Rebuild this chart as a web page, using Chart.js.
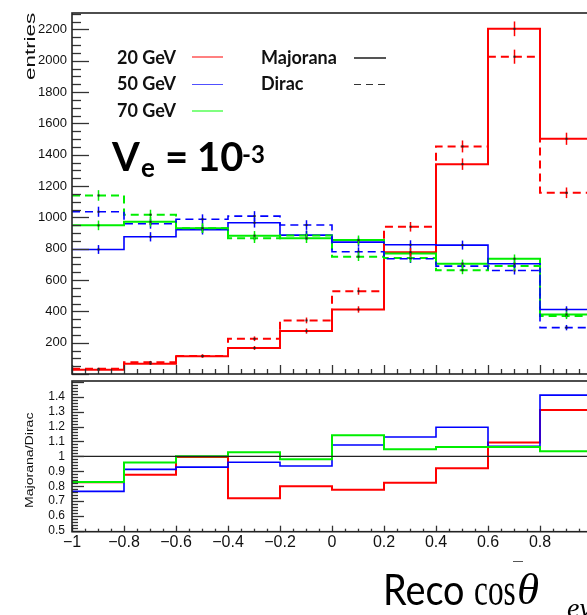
<!DOCTYPE html>
<html><head><meta charset="utf-8">
<script src="https://cdn.jsdelivr.net/npm/chart.js@4.4.1/dist/chart.umd.min.js"></script>
<style>
html,body{margin:0;padding:0;background:#fff;overflow:hidden;}
#wrap{position:relative;width:587px;height:615px;overflow:hidden;background:#fff;}
canvas{position:absolute;left:0;top:0;}
.t{position:absolute;white-space:nowrap;line-height:1;color:#000;}
.lg{font-family:Lato,sans-serif;font-weight:bold;font-size:18px;color:#111;}
.ln{position:absolute;}
.rt{position:absolute;white-space:nowrap;line-height:1;color:#111;font-family:'Liberation Sans',Arial,sans-serif;transform-origin:0 0;}
</style></head><body>
<div id="wrap">
<canvas id="top" width="640" height="400" style="width:640px;height:400px"></canvas>
<canvas id="bot" width="640" height="615" style="width:640px;height:615px"></canvas>

<div class="rt" style="left:23.4px;top:80px;font-size:14px;transform:rotate(-90deg) scaleX(1.6)">entries</div>
<div class="rt" style="left:23.7px;top:508px;font-size:11px;transform:rotate(-90deg) scaleX(1.28)">Majorana/Dirac</div>

<div class="t lg" style="left:117px;top:48px">20 GeV</div>
<div class="t lg" style="left:117px;top:74px">50 GeV</div>
<div class="t lg" style="left:117px;top:100.5px">70 GeV</div>
<div class="t lg" style="left:261px;top:48px">Majorana</div>
<div class="t lg" style="left:261px;top:74px">Dirac</div>
<div class="ln" style="left:192px;top:56px;width:31px;height:2px;background:#ff8080"></div>
<div class="ln" style="left:192px;top:83.5px;width:31px;height:1.5px;background:#5050ff"></div>
<div class="ln" style="left:192px;top:109.5px;width:31px;height:2.5px;background:#80ff80"></div>
<div class="ln" style="left:354px;top:57px;width:32px;height:1.5px;background:#555"></div>
<div class="ln" style="left:354px;top:83.5px;width:32px;height:1.5px;background:repeating-linear-gradient(to right,#333 0 7px,transparent 7px 12px)"></div>

<div class="t" style="left:112px;top:136px;font:bold 40px Lato,sans-serif;line-height:1">V</div>
<div class="t" style="left:141px;top:153.5px;font:bold 26px Lato,sans-serif;line-height:1">e</div>
<div class="t" style="left:165px;top:136px;font:bold 40px Lato,sans-serif;line-height:1">=</div>
<div class="t" style="left:197px;top:136px;font:bold 40px Lato,sans-serif;line-height:1">10</div>
<div class="t" style="left:242px;top:142px;font:bold 24px Lato,sans-serif;line-height:1">-3</div>

<div class="ln" style="left:513px;top:561px;width:10px;height:1px;background:#555"></div>
<div class="t" style="left:383px;top:567.7px;font:42px Lato,sans-serif;line-height:1;transform:scaleX(0.9);transform-origin:left">Reco</div>
<div class="t" style="left:474px;top:566.5px;font:46px 'Liberation Serif',serif;line-height:1;transform:scaleX(0.68);transform-origin:left">cos</div>
<div class="t" style="left:517px;top:567px;font:italic 45px 'Liberation Serif',serif;line-height:1">θ</div>
<div class="t" style="left:567px;top:593.5px;font:italic 28px 'Liberation Serif',serif;line-height:1">eν</div>
</div>
<script>
// ---- data ----
const edges = [-1, -0.8, -0.6, -0.4, -0.2, 0, 0.2, 0.4, 0.6, 0.8, 1];
// Majorana (solid)
const maj20 = [27, 66, 114, 166, 274, 412, 778, 1340, 2204, 1502];
const maj50 = [795, 876, 921, 966, 887, 842, 825, 823, 704, 412];
const maj70 = [949, 972, 931, 883, 866, 855, 770, 704, 736, 380];
// Dirac (dashed)
const dir20 = [33, 75, 115, 225, 342, 529, 940, 1453, 2026, 1157];
const dir50 = [1036, 959, 988, 1008, 951, 781, 736, 689, 661, 296];
const dir70 = [1140, 1017, 930, 866, 884, 749, 740, 663, 689, 370];
// Majorana/Dirac ratio
const ratio20 = [0.826, 0.877, 0.996, 0.72, 0.80, 0.776, 0.823, 0.92, 1.092, 1.31];
const ratio50 = [0.765, 0.913, 0.928, 0.96, 0.935, 1.076, 1.13, 1.195, 1.067, 1.41];
const ratio70 = [0.828, 0.958, 1.0, 1.027, 0.98, 1.141, 1.047, 1.062, 1.062, 1.034];
const ratioRef = [1, 1];
// ticks
const yTopTicks = [200, 400, 600, 800, 1000, 1200, 1400, 1600, 1800, 2000, 2200];
const yBotTicks = [0.5, 0.6, 0.7, 0.8, 0.9, 1, 1.1, 1.2, 1.3, 1.4];
const yBotLabels = ['0.5', '0.6', '0.7', '0.8', '0.9', '1', '1.1', '1.2', '1.3', '1.4'];
const xTicks = [-1, -0.8, -0.6, -0.4, -0.2, 0, 0.2, 0.4, 0.6, 0.8, 1];
const xLabels = ['\u22121', '\u22120.8', '\u22120.6', '\u22120.4', '\u22120.2', '0', '0.2', '0.4', '0.6', '0.8', '1'];

const RED = '#ff0000', BLUE = '#0000ff', GREEN = '#00ee00';

function steps(vals) {
  const pts = vals.map((v, i) => ({x: edges[i], y: v}));
  pts.push({x: edges[vals.length], y: vals[vals.length - 1]});
  return pts;
}
function hist(vals, color, width, dashed, err) {
  return {data: steps(vals), binValues: err ? vals : null, borderColor: color, borderWidth: width,
    borderDash: dashed ? [8, 5] : [], stepped: true, pointRadius: 0, fill: false, tension: 0};
}

const rootFrame = {
  id: 'rootFrame',
  afterDraw(chart, args, o) {
    const {ctx, chartArea: a} = chart;
    const x = chart.scales.x, y = chart.scales.y;
    ctx.save();
    ctx.strokeStyle = '#333';
    ctx.lineWidth = 1.3;
    const y0 = Math.ceil(y.min / o.yMinor - 1e-6), y1 = Math.floor(y.max / o.yMinor + 1e-6);
    for (let n = y0; n <= y1; n++) {
      const py = Math.round(y.getPixelForValue(n * o.yMinor)) + 0.5;
      const len = (n % o.yRatio === 0) ? o.yMajorLen : o.yMinorLen;
      ctx.beginPath(); ctx.moveTo(a.left, py); ctx.lineTo(a.left + len, py); ctx.stroke();
    }
    const x0 = Math.ceil(x.min / o.xMinor - 1e-6), x1 = Math.floor(x.max / o.xMinor + 1e-6);
    for (let n = x0; n <= x1; n++) {
      const px = Math.round(x.getPixelForValue(n * o.xMinor)) + 0.5;
      const len = (n % o.xRatio === 0) ? o.xMajorLen : o.xMinorLen;
      ctx.beginPath(); ctx.moveTo(px, a.bottom); ctx.lineTo(px, a.bottom - len); ctx.stroke();
    }
    ctx.lineWidth = 1.6;
    ctx.strokeStyle = '#222';
    ctx.strokeRect(a.left, a.top, a.right - a.left, a.bottom - a.top);
    ctx.restore();
  }
};

const errBars = {
  id: 'errBars',
  afterDatasetsDraw(chart) {
    const {ctx, chartArea: a} = chart;
    const x = chart.scales.x, y = chart.scales.y;
    ctx.save();
    ctx.beginPath(); ctx.rect(a.left, a.top, a.right - a.left, a.bottom - a.top); ctx.clip();
    chart.data.datasets.forEach(ds => {
      if (!ds.binValues) return;
      ds.binValues.forEach((v, b) => {
        const cx = Math.round(x.getPixelForValue((edges[b] + edges[b + 1]) / 2)) + 0.5;
        const e = Math.sqrt(v);
        ctx.strokeStyle = ds.borderColor; ctx.lineWidth = 1.5; ctx.setLineDash([]);
        ctx.beginPath(); ctx.moveTo(cx, y.getPixelForValue(v - e)); ctx.lineTo(cx, y.getPixelForValue(v + e)); ctx.stroke();
        ctx.fillStyle = '#222';
        ctx.fillRect(cx - 1, y.getPixelForValue(v) - 1, 2, 2);
      });
    });
    ctx.restore();
  }
};

new Chart(document.getElementById('top'), {
  type: 'line',
  data: {datasets: [
    hist(dir50, BLUE, 1.6, true, true),
    hist(dir70, GREEN, 2, true, true),
    hist(dir20, RED, 2, true, true),
    hist(maj50, BLUE, 1.6, false, true),
    hist(maj70, GREEN, 2, false, true),
    hist(maj20, RED, 2, false, true)
  ]},
  options: {
    responsive: false, animation: false,
    layout: {padding: {left: 0, top: 13, right: 48, bottom: 26}},
    plugins: {legend: {display: false}, tooltip: {enabled: false},
      rootFrame: {yMinor: 50, yRatio: 4, yMajorLen: 17, yMinorLen: 9, xMinor: 0.05, xRatio: 4, xMajorLen: 9, xMinorLen: 5}},
    scales: {
      x: {type: 'linear', min: -1, max: 1, display: false},
      y: {type: 'linear', min: 0, max: 2305,
        afterFit(s) { s.width = 72; },
        afterBuildTicks(s) { s.ticks = yTopTicks.map(v => ({value: v})); },
        grid: {display: false, drawTicks: false}, border: {display: false},
        ticks: {font: {family: 'Liberation Sans', size: 13}, color: '#111', padding: 5, autoSkip: false, callback: v => String(v)},
        title: {display: false}
      }
    }
  },
  plugins: [rootFrame, errBars]
});

new Chart(document.getElementById('bot'), {
  type: 'line',
  data: {datasets: [
    {data: [{x: -1, y: ratioRef[0]}, {x: 1, y: ratioRef[1]}], borderColor: '#222', borderWidth: 1.4, pointRadius: 0, fill: false},
    hist(ratio70, GREEN, 2, false, false),
    hist(ratio50, BLUE, 1.6, false, false),
    hist(ratio20, RED, 2, false, false)
  ]},
  options: {
    responsive: false, animation: false,
    layout: {padding: {left: 0, top: 381, right: 48, bottom: 53.3}},
    plugins: {legend: {display: false}, tooltip: {enabled: false},
      rootFrame: {yMinor: 0.02, yRatio: 5, yMajorLen: 12, yMinorLen: 6, xMinor: 0.05, xRatio: 4, xMajorLen: 6, xMinorLen: 3}},
    scales: {
      x: {type: 'linear', min: -1, max: 1,
        afterFit(s) { s.height = 30; },
        afterBuildTicks(s) { s.ticks = xTicks.map(v => ({value: v})); },
        grid: {display: false, drawTicks: false}, border: {display: false},
        ticks: {font: {family: 'Liberation Sans', size: 16}, color: '#111', padding: 1, maxRotation: 0, autoSkip: false,
          callback: (v, i) => xLabels[i]}
      },
      y: {type: 'linear', min: 0.495, max: 1.505,
        afterFit(s) { s.width = 72; },
        afterBuildTicks(s) { s.ticks = yBotTicks.map(v => ({value: v})); },
        grid: {display: false, drawTicks: false}, border: {display: false},
        ticks: {font: {family: 'Liberation Sans', size: 12}, color: '#111', padding: 7, autoSkip: false, callback: (v, i) => yBotLabels[i]},
        title: {display: false}
      }
    }
  },
  plugins: [rootFrame]
});
</script>
</body></html>
